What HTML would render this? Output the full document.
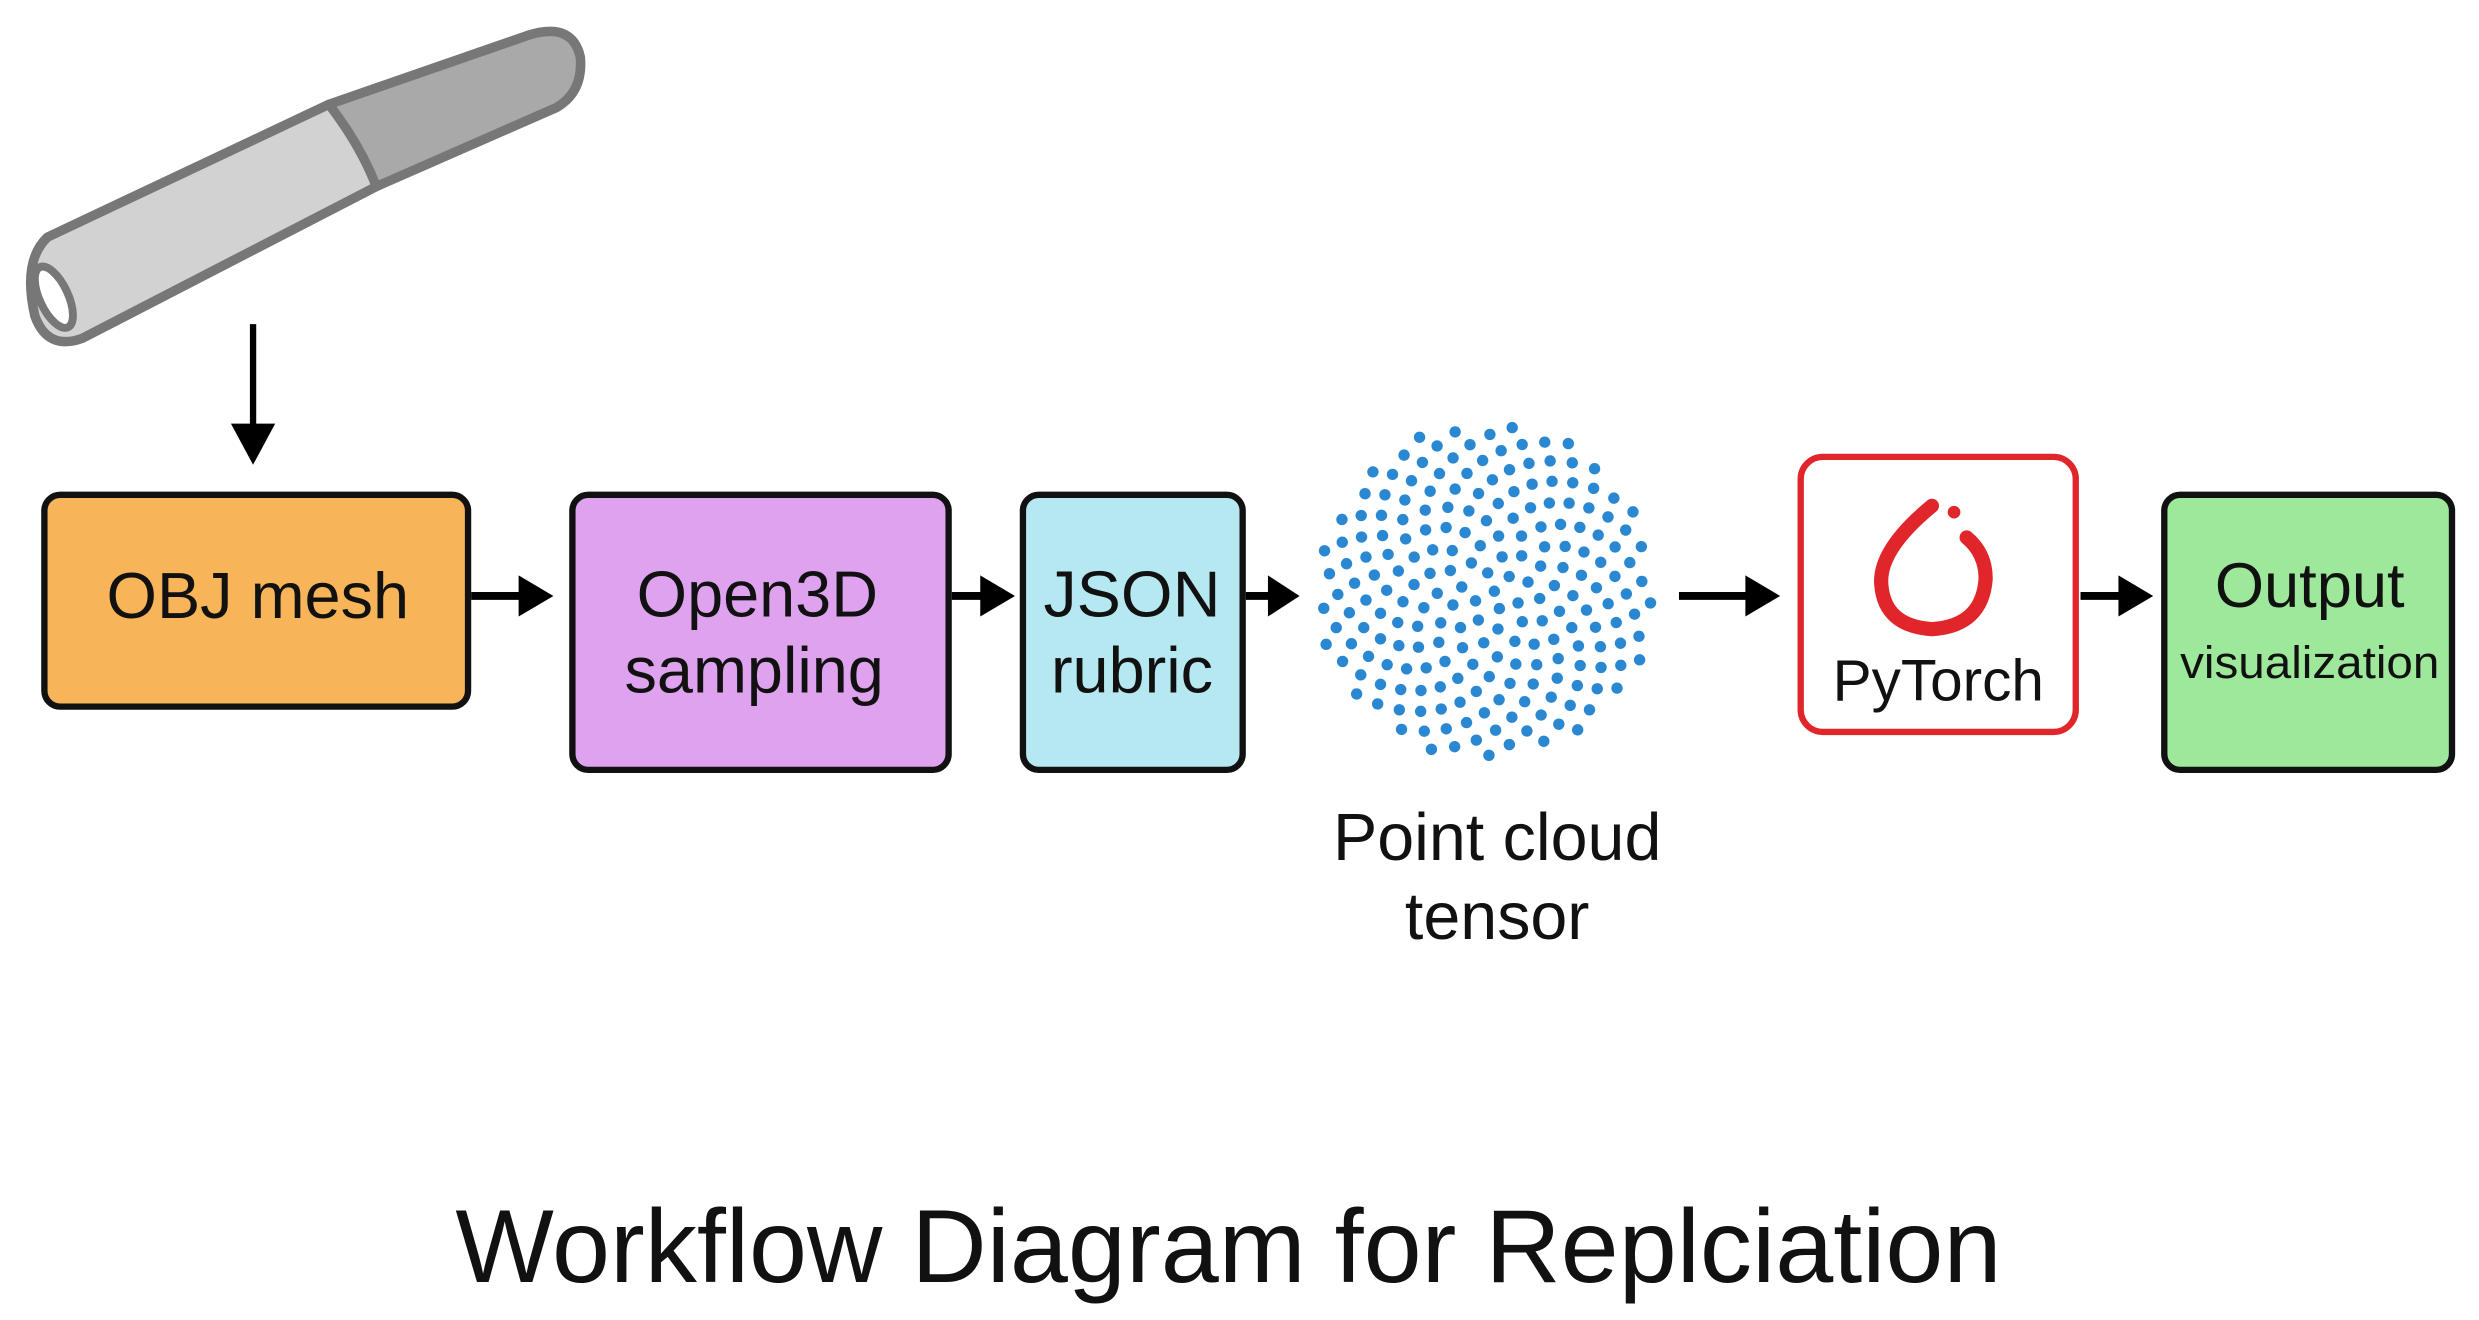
<!DOCTYPE html>
<html><head><meta charset="utf-8"><style>
html,body{margin:0;padding:0;background:#fff;}
svg{display:block;}
text{font-family:"Liberation Sans",sans-serif;fill:#111;}
</style></head><body>
<svg id="s" width="2479" height="1320" viewBox="0 0 1568 835" xmlns="http://www.w3.org/2000/svg">
<!-- tube -->
<path d="M208,66 L335,22 Q362,14 367,36 Q369,58 352,68 L238,118 Z" fill="#a9a9a9" stroke="#777" stroke-width="6" stroke-linejoin="round"/>
<path d="M30,150 L208,66 Q228,92 238,118 L52,214 Q30,222 22,200 Q14,165 30,150 Z" fill="#d2d2d2" stroke="#777" stroke-width="6" stroke-linejoin="round"/>
<ellipse cx="34" cy="188" rx="9" ry="21" transform="rotate(-25 34 188)" fill="#fff" stroke="#777" stroke-width="5"/>
<!-- down arrow -->
<line x1="160" y1="205" x2="160" y2="275" stroke="#000" stroke-width="4"/>
<path d="M146,268 L174,268 L160,294 Z" fill="#000"/>
<!-- boxes -->
<rect x="28" y="313" width="268" height="134" rx="10" fill="#f8b458" stroke="#111" stroke-width="4"/>
<text x="163" y="391" font-size="41" text-anchor="middle">OBJ mesh</text>
<rect x="362" y="313" width="238" height="174" rx="10" fill="#dea2ef" stroke="#111" stroke-width="4"/>
<text x="479" y="390" font-size="41" text-anchor="middle">Open3D</text>
<text x="477" y="438" font-size="41" text-anchor="middle">sampling</text>
<rect x="647" y="313" width="139" height="174" rx="10" fill="#b5e8f1" stroke="#111" stroke-width="4"/>
<text x="716" y="390" font-size="41" text-anchor="middle" textLength="112" lengthAdjust="spacingAndGlyphs">JSON</text>
<text x="716" y="438" font-size="41" text-anchor="middle">rubric</text>
<rect x="1139" y="289" width="174" height="174" rx="14" fill="#fff" stroke="#e0262a" stroke-width="4"/>
<text x="1226" y="443" font-size="37" text-anchor="middle" fill="#222">PyTorch</text>
<path d="M1222,320 Q1188,348 1190,370 Q1192,396 1222,398 Q1254,396 1256,366 Q1256,350 1244,340" fill="none" stroke="#e0262a" stroke-width="9" stroke-linecap="round"/>
<circle cx="1236" cy="324" r="4" fill="#e0262a"/>
<rect x="1369" y="313" width="182" height="174" rx="10" fill="#9ee89c" stroke="#111" stroke-width="4"/>
<text x="1461" y="384" font-size="40" text-anchor="middle">Output</text>
<text x="1461" y="429" font-size="29" text-anchor="middle" textLength="164" lengthAdjust="spacingAndGlyphs">visualization</text>
<!-- arrows -->
<g stroke="#000" stroke-width="5">
<line x1="298" y1="377" x2="332" y2="377"/>
<line x1="602" y1="377" x2="624" y2="377"/>
<line x1="788" y1="377" x2="806" y2="377"/>
<line x1="1062" y1="377" x2="1106" y2="377"/>
<line x1="1316" y1="377" x2="1344" y2="377"/>
</g>
<g fill="#000">
<path d="M328,364 L350,377 L328,390Z"/>
<path d="M620,364 L642,377 L620,390Z"/>
<path d="M802,364 L822,377 L802,390Z"/>
<path d="M1104,364 L1126,377 L1104,390Z"/>
<path d="M1340,364 L1362,377 L1340,390Z"/>
</g>
<g id="dots" fill="#2a88d2"></g>
<text x="947" y="544" font-size="42" text-anchor="middle">Point cloud</text>
<text x="947" y="594" font-size="42" text-anchor="middle">tensor</text>
<text x="777" y="811" font-size="66" text-anchor="middle">Workflow Diagram for Replciation</text>
</svg>
<script>
var g=document.getElementById('dots'),n=210,ga=Math.PI*(3-Math.sqrt(5)),s='';
for(var i=0;i<n;i++){var r=Math.sqrt((i+0.5)/n),a=i*ga;var x=940+r*107*Math.cos(a),y=374+r*107*Math.sin(a);
s+='<circle cx="'+x.toFixed(1)+'" cy="'+y.toFixed(1)+'" r="3.6"/>';}
g.innerHTML=s;
</script>
</body></html>
